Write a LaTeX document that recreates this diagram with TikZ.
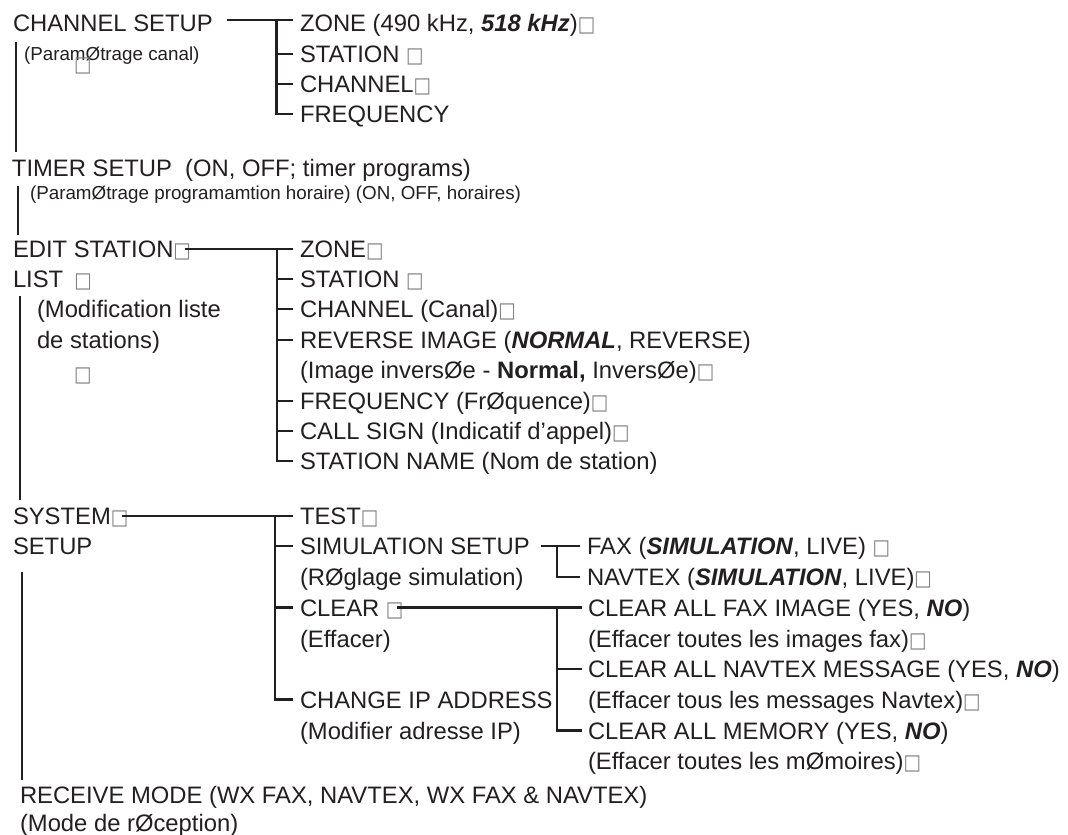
\documentclass[tikz,border=0pt]{standalone}
\usepackage{fontspec}
\setmainfont{Liberation Sans}
\newfontfamily\dvs{DejaVu Sans}
\usetikzlibrary{calc}
\definecolor{txt}{HTML}{231F20}
\newcommand\sqb{{\dvs\fontsize{18.5}{18.5}\selectfont\textcolor{black!50}{\scalebox{1}[1.15]{□}}}}
\newcommand\bi[1]{\textbf{\textit{#1}}}
\begin{document}
\begin{tikzpicture}[x=1pt,y=-1pt,
  t/.style={inner sep=0pt,outer sep=0pt,anchor=base west,font=\fontsize{23.8}{23.8}\selectfont,text height=17pt,text depth=0pt,text=txt},
  s/.style={t,font=\fontsize{18.8}{18.8}\selectfont,text height=13.4pt},
  ln/.style={line width=2.3pt,draw=txt}]
\fill[white] (0,0) rectangle (1068,835);
\useasboundingbox (0,0) rectangle (1068,835);
% bracket columns
\coordinate (B1) at (276.5,0);
\coordinate (B2) at (277,0);
\coordinate (B3) at (275,0);
\coordinate (B4) at (557,0);
% ---------- channel setup
\node[t] (chs) at (13,31.5) {CHANNEL SETUP};
\node[s] (pc) at (24,60) {(ParamØtrage canal)};
\node[t] (pcsq) at (74,71) {\sqb};
\node[t] (z1) at (300,31.5) {ZONE (490 kHz, \bi{518 kHz})\sqb};
\node[t] (st1) at (300,62.5) {STATION \sqb};
\node[t] (ch1) at (300,92.5) {CHANNEL\sqb};
\node[t] (f1) at (300,122.5) {FREQUENCY};
\draw[ln] ($(chs.east)+(14,-3)$) -- ($(z1.west)+(-7,-3)$);
\draw[ln] ($(B1|-z1.west)+(0,-3)$) |- ($(f1.west)+(-7,0)$);
\draw[ln] (B1|-st1.west) -- ($(st1.west)+(-7,0)$);
\draw[ln] (B1|-ch1.west) -- ($(ch1.west)+(-7,0)$);
\coordinate (L1a) at (16,42);
\coordinate (L1b) at (16,152);
\draw[ln] (L1a) -- (L1b);
% ---------- timer setup
\node[t] (tim) at (12,176.5) {TIMER SETUP~ (ON, OFF; timer programs)};
\node[s] (tims) at (30,199) {(ParamØtrage programamtion horaire) (ON, OFF, horaires)};
\coordinate (L2a) at (18,186);
\coordinate (L2b) at (18,235);
\draw[ln] (L2a) -- (L2b);
% ---------- edit station list
\node[t] (ed) at (13,257.5) {EDIT STATION\sqb};
\node[t] (li) at (13,287.5) {LIST\hspace{11pt}\sqb};
\node[t] (mod1) at (37,317.5) {(Modification liste};
\node[t] (mod2) at (37,348.5) {de stations)};
\node[t] (modsq) at (74,381) {\sqb};
\node[t] (z2) at (300,257.5) {ZONE\sqb};
\node[t] (st2) at (300,287.5) {STATION \sqb};
\node[t] (ch2) at (300,317.5) {CHANNEL (Canal)\sqb};
\node[t] (rv) at (300,348.5) {REVERSE IMAGE (\bi{NORMAL}, REVERSE)};
\node[t] (ri) at (300,378.5) {(Image inversØe - \textbf{Normal,} InversØe)\sqb};
\node[t] (fq2) at (300,409.5) {FREQUENCY (FrØquence)\sqb};
\node[t] (cs) at (300,439.5) {CALL SIGN (Indicatif d’appel)\sqb};
\node[t] (sn) at (300,469.5) {STATION NAME (Nom de station)};
\draw[ln] ($(ed.east)+(-6,0)$) -- ($(z2.west)+(-7,0)$);
\draw[ln] (B2|-z2.west) |- ($(sn.west)+(-7,0)$);
\foreach \n in {st2,ch2,rv,fq2,cs}
  \draw[ln] (B2|-\n.west) -- ($(\n.west)+(-7,0)$);
\coordinate (L3a) at (20,296);
\coordinate (L3b) at (20,500);
\draw[ln] (L3a) -- (L3b);
% ---------- system setup
\node[t] (sys) at (13,524.5) {SYSTEM\sqb};
\node[t] (sset) at (13,554.5) {SETUP};
\node[t] (test) at (300,524.5) {TEST\sqb};
\node[t] (sim) at (300,554.5) {SIMULATION SETUP};
\node[t] (simf) at (300,585.5) {(RØglage simulation)};
\node[t] (clr) at (300,616) {CLEAR \sqb};
\node[t] (clrf) at (300,647) {(Effacer)};
\node[t] (cip) at (300,708) {CHANGE IP ADDRESS};
\node[t] (cipf) at (300,739) {(Modifier adresse IP)};
\node[t] (fax) at (587,554.5) {FAX (\bi{SIMULATION}, LIVE) \sqb};
\node[t] (nav) at (587,585.5) {NAVTEX (\bi{SIMULATION}, LIVE)\sqb};
\node[t] (caf) at (588,616) {CLEAR ALL FAX IMAGE (YES, \bi{NO})};
\node[t] (caff) at (588,647) {(Effacer toutes les images fax)\sqb};
\node[t] (can) at (588,677.5) {CLEAR ALL NAVTEX MESSAGE (YES, \bi{NO})};
\node[t] (canf) at (588,708) {(Effacer tous les messages Navtex)\sqb};
\node[t] (cam) at (588,739) {CLEAR ALL MEMORY (YES, \bi{NO})};
\node[t] (camf) at (588,769.5) {(Effacer toutes les mØmoires)\sqb};
\draw[ln] ($(sys.east)+(-6,0)$) -- ($(test.west)+(-7,0)$);
\draw[ln] (B3|-test.west) |- ($(cip.west)+(-7,0)$);
\draw[ln] (B3|-sim.west) -- ($(sim.west)+(-7,0)$);
\draw[ln] (B3|-clr.west) -- ($(clr.west)+(-7,0)$);
\draw[ln] ($(sim.east)+(11,0)$) -- ($(fax.west)+(-7,0)$);
\draw[ln] (B4|-fax.west) |- ($(nav.west)+(-7,0)$);
\draw[ln] ($(clr.east)+(-6,0)$) -- ($(caf.west)+(-6,0)$);
\draw[ln] (B4|-caf.west) |- ($(cam.west)+(-6,0)$);
\draw[ln] (B4|-can.west) -- ($(can.west)+(-6,0)$);
\coordinate (L4a) at (22,572);
\coordinate (L4b) at (22,780);
\draw[ln] (L4a) -- (L4b);
% ---------- receive mode
\node[t] (rcv) at (20,803) {RECEIVE MODE (WX FAX, NAVTEX, WX FAX \& NAVTEX)};
\node[t] (rcvf) at (20,831) {(Mode de rØception)};
\end{tikzpicture}
\end{document}
